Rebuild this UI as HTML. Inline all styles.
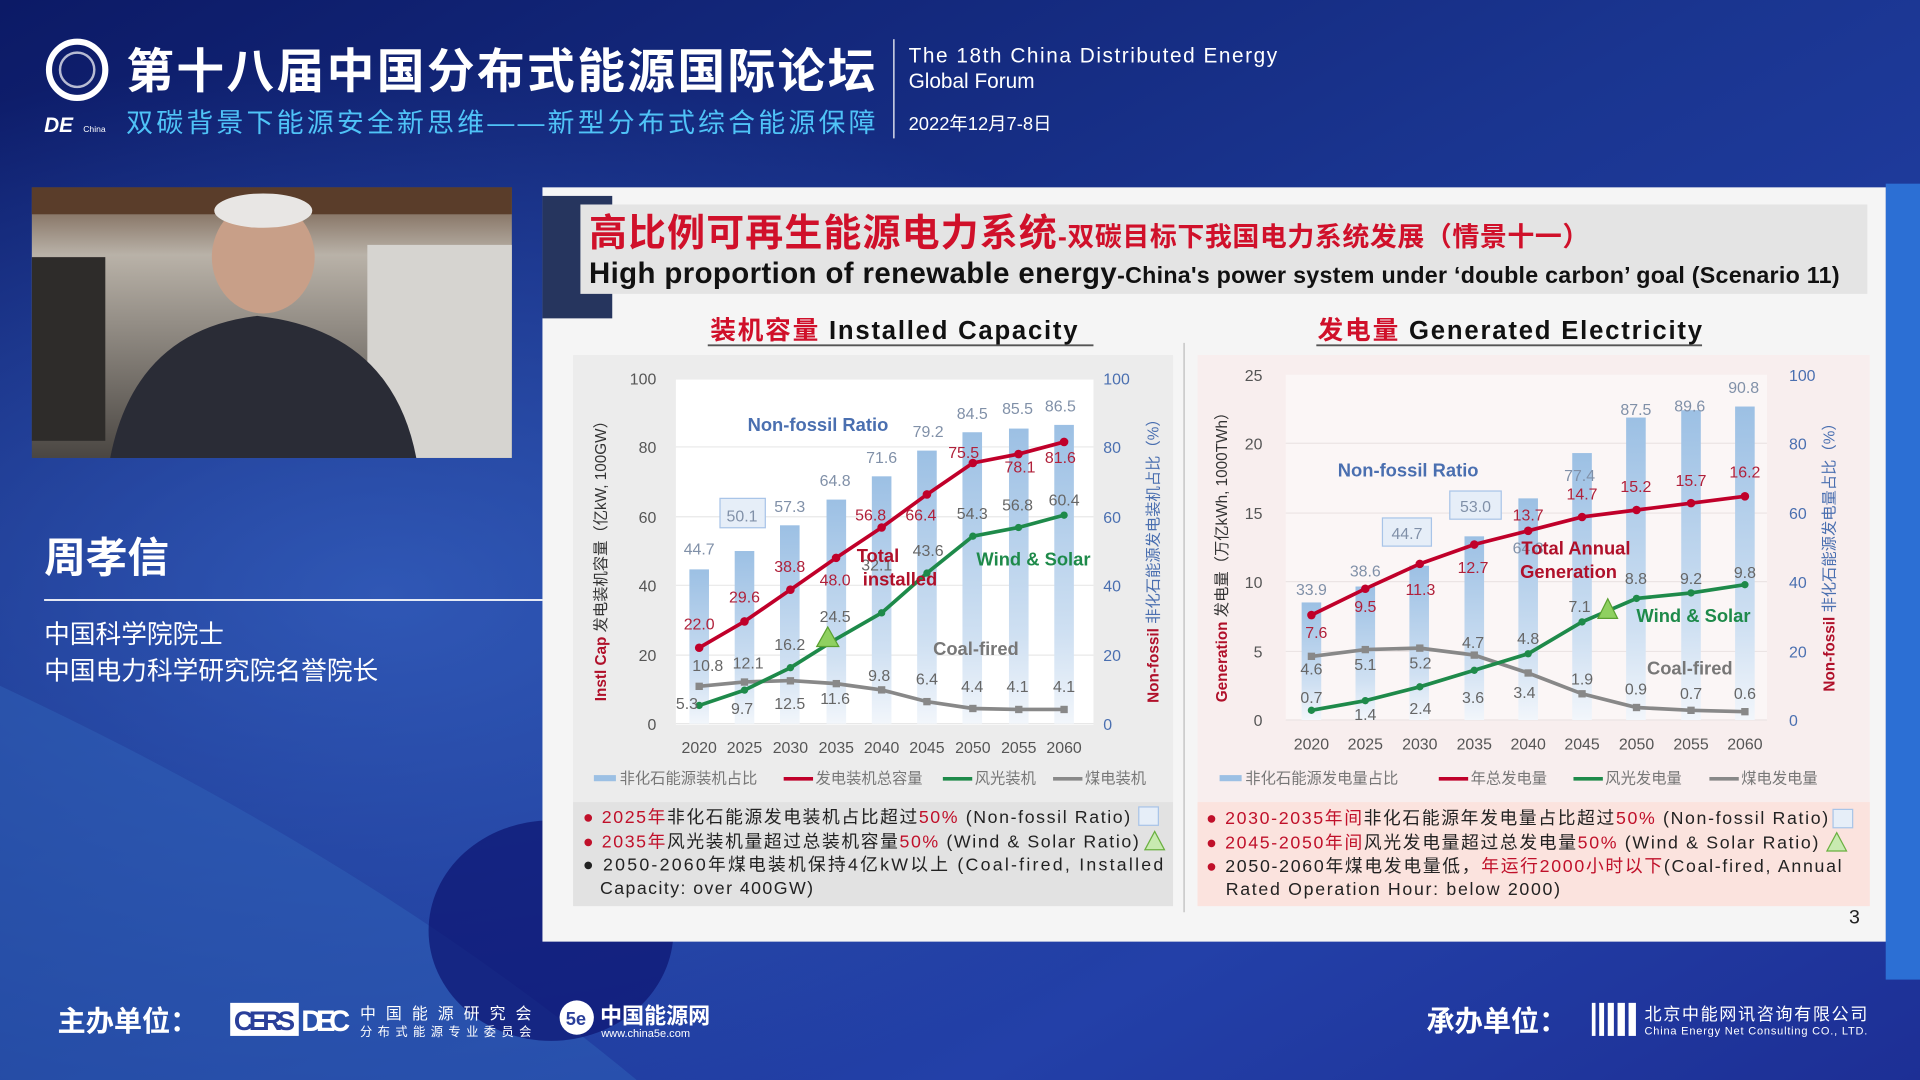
<!DOCTYPE html>
<html><head><meta charset="utf-8"><style>
html,body{margin:0;padding:0;width:1920px;height:1080px;overflow:hidden;background:#14256e;}
svg{display:block}
text{font-family:"Liberation Sans","Noto Sans CJK SC",sans-serif;}
</style></head><body>
<svg width="1920" height="1080" viewBox="0 0 1568 882" xmlns="http://www.w3.org/2000/svg">
<defs>
<linearGradient id="bg" x1="0" y1="0" x2="1" y2="1">
<stop offset="0" stop-color="#0c1a66"/><stop offset="0.45" stop-color="#1a3590"/><stop offset="0.75" stop-color="#2340a8"/><stop offset="1" stop-color="#1d2f95"/>
</linearGradient>
<radialGradient id="glow" cx="0.2" cy="0.55" r="0.5"><stop offset="0" stop-color="#3a68c8" stop-opacity="0.7"/><stop offset="1" stop-color="#3a68c8" stop-opacity="0"/></radialGradient>
<linearGradient id="barL" x1="0" y1="0" x2="0" y2="1"><stop offset="0" stop-color="#9cc0e4"/><stop offset="0.7" stop-color="#cfe0f2"/><stop offset="1" stop-color="#f2f6fb"/></linearGradient>
<linearGradient id="vid" x1="0" y1="0" x2="0" y2="1"><stop offset="0" stop-color="#6b5240"/><stop offset="0.25" stop-color="#b9b2a8"/><stop offset="1" stop-color="#4a4642"/></linearGradient>
</defs>
<rect width="1568" height="882" fill="url(#bg)"/>
<rect width="1568" height="882" fill="url(#glow)"/>
<path d="M0 560 Q300 700 520 882 L0 882Z" fill="#2f62b8" opacity="0.5"/>
<ellipse cx="450" cy="760" rx="100" ry="90" fill="#0d1470" opacity="0.7"/>
<rect x="1540" y="150" width="28" height="650" fill="#2c6fd4"/>
<!-- header -->
<circle cx="63" cy="57" r="23" fill="none" stroke="#fff" stroke-width="5"/>
<circle cx="63" cy="57" r="14" fill="none" stroke="#fff" stroke-width="2" opacity="0.7"/>
<text x="36" y="108" font-size="17" font-weight="bold" fill="#fff" font-style="italic">DE</text>
<text x="68" y="108" font-size="7" fill="#fff">China</text>
<text x="103" y="72" font-size="39" font-weight="bold" fill="#fff" textLength="612">第十八届中国分布式能源国际论坛</text>
<text x="103" y="108" font-size="22" fill="#4fc3f7" textLength="612">双碳背景下能源安全新思维——新型分布式综合能源保障</text>
<line x1="730" y1="32" x2="730" y2="113" stroke="#fff" stroke-width="1"/>
<text x="742" y="51" font-size="17" fill="#fff" textLength="301">The 18th China Distributed Energy</text>
<text x="742" y="72" font-size="17" fill="#fff">Global Forum</text>
<text x="742" y="106" font-size="15" fill="#fff">2022年12月7-8日</text>
<!-- video -->
<rect x="26" y="153" width="392" height="221" fill="url(#vid)"/>
<rect x="26" y="153" width="392" height="22" fill="#5a3d2a"/>
<rect x="300" y="200" width="118" height="174" fill="#d6d4d0"/>
<rect x="26" y="210" width="60" height="150" fill="#2e2c2a"/>
<ellipse cx="215" cy="210" rx="42" ry="46" fill="#c89f88"/>
<ellipse cx="215" cy="172" rx="40" ry="14" fill="#e8e6e4"/>
<path d="M90 374 Q110 270 210 258 Q320 270 340 374Z" fill="#2a2c36"/>
<!-- name -->
<text x="36" y="467" font-size="34" font-weight="bold" fill="#fff">周孝信</text>
<line x1="36" y1="490" x2="443" y2="490" stroke="#fff" stroke-width="1.5"/>
<text x="36" y="525" font-size="21" fill="#fff">中国科学院院士</text>
<text x="36" y="555" font-size="21" fill="#fff">中国电力科学研究院名誉院长</text>
<!-- slide -->
<rect x="443" y="153" width="1097" height="616" fill="#f5f5f5"/>
<rect x="443" y="160" width="57" height="100" fill="#26355e"/>
<rect x="474" y="167" width="1051" height="73" fill="#e4e4e4"/>
<text x="481" y="201" font-size="31" font-weight="bold" fill="#d0102a"><tspan textLength="382">高比例可再生能源电力系统</tspan><tspan font-size="22" textLength="434">-双碳目标下我国电力系统发展（情景十一）</tspan></text>
<text x="481" y="231" font-size="24" font-weight="bold" fill="#111"><tspan textLength="431">High proportion of renewable energy</tspan><tspan font-size="19" textLength="590">-China's power system under ‘double carbon’ goal (Scenario 11)</tspan></text>
<line x1="967" y1="280" x2="967" y2="745" stroke="#bbb"/>
<!-- LEFT CHART -->
<text x="580" y="277" font-size="21" font-weight="bold" fill="#d0102a" textLength="300">装机容量 <tspan fill="#111">Installed Capacity</tspan></text>
<line x1="578" y1="282" x2="893" y2="282" stroke="#555" stroke-width="1.5"/>
<rect x="468" y="290" width="490" height="365" fill="#ececec"/>
<rect x="552" y="310" width="341" height="282" fill="#fff"/>
<g stroke="#e8e8e8"><line x1="552" y1="365" x2="893" y2="365"/><line x1="552" y1="422" x2="893" y2="422"/><line x1="552" y1="478" x2="893" y2="478"/><line x1="552" y1="535" x2="893" y2="535"/><line x1="552" y1="591" x2="893" y2="591"/></g>
<g font-size="13" fill="#555" text-anchor="end"><text x="536" y="314">100</text><text x="536" y="370">80</text><text x="536" y="427">60</text><text x="536" y="483">40</text><text x="536" y="540">20</text><text x="536" y="596">0</text></g>
<g font-size="13" fill="#4a6fb0"><text x="901" y="314">100</text><text x="901" y="370">80</text><text x="901" y="427">60</text><text x="901" y="483">40</text><text x="901" y="540">20</text><text x="901" y="596">0</text></g>
<g fill="url(#barL)">
<rect x="563" y="465" width="16" height="126"/><rect x="600" y="450" width="16" height="141"/><rect x="637" y="429" width="16" height="162"/><rect x="675" y="408" width="16" height="183"/><rect x="712" y="389" width="16" height="202"/><rect x="749" y="368" width="16" height="223"/><rect x="786" y="353" width="16" height="238"/><rect x="824" y="350" width="16" height="241"/><rect x="861" y="347" width="16" height="244"/>
</g>
<polyline points="571,560.5 608,556.9 645.5,555.8 682.8,558.3 720,563.4 757,573 794.5,578.6 831.8,579.4 869,579.4" fill="none" stroke="#888" stroke-width="3"/>
<g fill="#888"><rect x="568" y="557.5" width="6" height="6"/><rect x="605" y="554" width="6" height="6"/><rect x="642.5" y="553" width="6" height="6"/><rect x="680" y="555.3" width="6" height="6"/><rect x="717" y="560.4" width="6" height="6"/><rect x="754" y="570" width="6" height="6"/><rect x="791.5" y="575.6" width="6" height="6"/><rect x="829" y="576.4" width="6" height="6"/><rect x="866" y="576.4" width="6" height="6"/></g>
<polyline points="571,576.1 608,563.6 645.5,545.3 682.8,521.9 720,500.5 757,468 794.5,437.9 831.8,430.8 869,420.7" fill="none" stroke="#1e8a4a" stroke-width="3"/>
<g fill="#1e8a4a"><circle cx="571" cy="576.1" r="3"/><circle cx="608" cy="563.6" r="3"/><circle cx="645.5" cy="545.3" r="3"/><circle cx="720" cy="500.5" r="3"/><circle cx="757" cy="468" r="3"/><circle cx="794.5" cy="437.9" r="3"/><circle cx="831.8" cy="430.8" r="3"/><circle cx="869" cy="420.7" r="3"/></g>
<polyline points="571,529 608,507.5 645.5,481.6 682.8,455.6 720,430.8 757,403.8 794.5,378.1 831.8,370.8 869,360.9" fill="none" stroke="#c0002a" stroke-width="3"/>
<g fill="#c0002a"><circle cx="571" cy="529" r="3.5"/><circle cx="608" cy="507.5" r="3.5"/><circle cx="645.5" cy="481.6" r="3.5"/><circle cx="682.8" cy="455.6" r="3.5"/><circle cx="720" cy="430.8" r="3.5"/><circle cx="757" cy="403.8" r="3.5"/><circle cx="794.5" cy="378.1" r="3.5"/><circle cx="831.8" cy="370.8" r="3.5"/><circle cx="869" cy="360.9" r="3.5"/></g>
<polygon points="676,512 667,528 685,528" fill="#8fd060" stroke="#5aa030"/>
<rect x="588" y="407" width="37" height="24" fill="#e6eef8" stroke="#a8c4e8"/>
<g font-size="13" fill="#8090a8" text-anchor="middle">
<text x="571" y="453">44.7</text><text x="606" y="426">50.1</text><text x="645" y="418">57.3</text><text x="682" y="397">64.8</text><text x="720" y="378">71.6</text><text x="758" y="357">79.2</text><text x="794" y="342">84.5</text><text x="831" y="338">85.5</text><text x="866" y="336">86.5</text></g>
<g font-size="13" fill="#b0203a" text-anchor="middle">
<text x="571" y="514">22.0</text><text x="608" y="492">29.6</text><text x="645" y="467">38.8</text><text x="682" y="478">48.0</text><text x="711" y="425">56.8</text><text x="752" y="425">66.4</text><text x="787" y="374">75.5</text><text x="833" y="386">78.1</text><text x="866" y="378">81.6</text></g>
<g font-size="13" fill="#666" text-anchor="middle">
<text x="561" y="579">5.3</text><text x="606" y="583">9.7</text><text x="645" y="531">16.2</text><text x="682" y="508">24.5</text><text x="716" y="466">32.1</text><text x="758" y="454">43.6</text><text x="794" y="424">54.3</text><text x="831" y="417">56.8</text><text x="869" y="413">60.4</text>
<text x="578" y="548">10.8</text><text x="611" y="546">12.1</text><text x="645" y="579">12.5</text><text x="682" y="575">11.6</text><text x="718" y="556">9.8</text><text x="757" y="559">6.4</text><text x="794" y="565">4.4</text><text x="831" y="565">4.1</text><text x="869" y="565">4.1</text></g>
<g font-size="15" font-weight="bold" text-anchor="middle">
<text x="668" y="352" fill="#4a6fb0">Non-fossil Ratio</text>
<text x="717" y="459" fill="#b0102a">Total</text><text x="735" y="478" fill="#b0102a">installed</text>
<text x="844" y="462" fill="#1e8a4a">Wind &amp; Solar</text>
<text x="797" y="535" fill="#777">Coal-fired</text></g>
<g font-size="13" fill="#555" text-anchor="middle"><text x="571" y="615">2020</text><text x="608" y="615">2025</text><text x="645.5" y="615">2030</text><text x="683" y="615">2035</text><text x="720" y="615">2040</text><text x="757" y="615">2045</text><text x="794.5" y="615">2050</text><text x="832" y="615">2055</text><text x="869" y="615">2060</text></g>
<text transform="translate(495,455) rotate(-90)" font-size="12.5" font-weight="bold" fill="#b0102a" text-anchor="middle">Instl Cap <tspan fill="#333" font-weight="normal">发电装机容量（亿kW, 100GW）</tspan></text>
<text transform="translate(946,455) rotate(-90)" font-size="12.5" font-weight="bold" fill="#b0102a" text-anchor="middle">Non-fossil <tspan fill="#4a6fb0" font-weight="normal">非化石能源发电装机占比（%）</tspan></text>
<g font-size="12.5" fill="#777"><rect x="485" y="633" width="18" height="5" fill="#9cc0e4"/><text x="506" y="640">非化石能源装机占比</text>
<line x1="640" y1="636" x2="664" y2="636" stroke="#c0002a" stroke-width="3"/><text x="666" y="640">发电装机总容量</text>
<line x1="770" y1="636" x2="794" y2="636" stroke="#1e8a4a" stroke-width="3"/><text x="796" y="640">风光装机</text>
<line x1="860" y1="636" x2="884" y2="636" stroke="#888" stroke-width="3"/><text x="886" y="640">煤电装机</text></g>
<rect x="468" y="655" width="490" height="85" fill="#e2e2e2"/>
<g font-size="14.5" fill="#222">
<text x="476" y="672" textLength="447"><tspan fill="#c0102a">● 2025年</tspan>非化石能源发电装机占比超过<tspan fill="#c0102a">50%</tspan> (Non-fossil Ratio)</text>
<text x="476" y="692" textLength="454"><tspan fill="#c0102a">● 2035年</tspan>风光装机量超过总装机容量<tspan fill="#c0102a">50%</tspan> (Wind &amp; Solar Ratio)</text>
<text x="476" y="711" textLength="474">● 2050-2060年煤电装机保持4亿kW以上 (Coal-fired, Installed</text>
<text x="490" y="730" textLength="174">Capacity: over 400GW)</text></g>
<rect x="930" y="659" width="16" height="15" fill="#e6eef8" stroke="#a8c4e8"/>
<polygon points="943,679 935,694 951,694" fill="#c8eab0" stroke="#6ab040"/>
<!-- RIGHT CHART -->
<text x="1076" y="277" font-size="21" font-weight="bold" fill="#d0102a" textLength="314">发电量 <tspan fill="#111">Generated Electricity</tspan></text>
<line x1="1075" y1="282" x2="1390" y2="282" stroke="#555" stroke-width="1.5"/>
<rect x="978" y="290" width="549" height="365" fill="#f8eeee"/>
<rect x="1050" y="306" width="393" height="282" fill="#fbf6f6"/>
<g stroke="#ebe4e4"><line x1="1050" y1="362" x2="1443" y2="362"/><line x1="1050" y1="419" x2="1443" y2="419"/><line x1="1050" y1="475" x2="1443" y2="475"/><line x1="1050" y1="532" x2="1443" y2="532"/><line x1="1050" y1="588" x2="1443" y2="588"/></g>
<g font-size="13" fill="#555" text-anchor="end"><text x="1031" y="311">25</text><text x="1031" y="367">20</text><text x="1031" y="424">15</text><text x="1031" y="480">10</text><text x="1031" y="537">5</text><text x="1031" y="593">0</text></g>
<g font-size="13" fill="#4a6fb0"><text x="1461" y="311">100</text><text x="1461" y="367">80</text><text x="1461" y="424">60</text><text x="1461" y="480">40</text><text x="1461" y="537">20</text><text x="1461" y="593">0</text></g>
<g fill="url(#barL)">
<rect x="1063" y="492" width="16" height="96"/><rect x="1107" y="479" width="16" height="109"/><rect x="1151" y="462" width="16" height="126"/><rect x="1196" y="438" width="16" height="150"/><rect x="1240" y="407" width="16" height="181"/><rect x="1284" y="370" width="16" height="218"/><rect x="1328" y="341" width="16" height="247"/><rect x="1373" y="335" width="16" height="253"/><rect x="1417" y="332" width="16" height="256"/>
</g>
<polyline points="1071,536.1 1115,530.5 1159.5,529.3 1204,535 1248,549.6 1292,566.6 1336.5,577.8 1381,580.1 1425,581.2" fill="none" stroke="#888" stroke-width="3"/>
<g fill="#888"><rect x="1068" y="533" width="6" height="6"/><rect x="1112" y="527.5" width="6" height="6"/><rect x="1156.5" y="526.3" width="6" height="6"/><rect x="1201" y="532" width="6" height="6"/><rect x="1245" y="546.6" width="6" height="6"/><rect x="1289" y="563.6" width="6" height="6"/><rect x="1333.5" y="574.8" width="6" height="6"/><rect x="1378" y="577.1" width="6" height="6"/><rect x="1422" y="578.2" width="6" height="6"/></g>
<polyline points="1071,580.1 1115,572.2 1159.5,560.9 1204,547.4 1248,533.9 1292,507.9 1336.5,488.7 1381,484.2 1425,477.5" fill="none" stroke="#1e8a4a" stroke-width="3"/>
<g fill="#1e8a4a"><circle cx="1071" cy="580.1" r="3"/><circle cx="1115" cy="572.2" r="3"/><circle cx="1159.5" cy="560.9" r="3"/><circle cx="1204" cy="547.4" r="3"/><circle cx="1248" cy="533.9" r="3"/><circle cx="1292" cy="507.9" r="3"/><circle cx="1336.5" cy="488.7" r="3"/><circle cx="1381" cy="484.2" r="3"/><circle cx="1425" cy="477.5" r="3"/></g>
<polyline points="1071,502.3 1115,480.8 1159.5,460.5 1204,444.7 1248,433.5 1292,422.2 1336.5,416.5 1381,410.9 1425,405.3" fill="none" stroke="#c0002a" stroke-width="3"/>
<g fill="#c0002a"><circle cx="1071" cy="502.3" r="3.5"/><circle cx="1115" cy="480.8" r="3.5"/><circle cx="1159.5" cy="460.5" r="3.5"/><circle cx="1204" cy="444.7" r="3.5"/><circle cx="1248" cy="433.5" r="3.5"/><circle cx="1292" cy="422.2" r="3.5"/><circle cx="1336.5" cy="416.5" r="3.5"/><circle cx="1381" cy="410.9" r="3.5"/><circle cx="1425" cy="405.3" r="3.5"/></g>
<polygon points="1313,489 1305,505 1321,505" fill="#8fd060" stroke="#5aa030"/>
<rect x="1129" y="423" width="40" height="23" fill="#e6eef8" stroke="#a8c4e8"/>
<rect x="1184" y="401" width="42" height="23" fill="#e6eef8" stroke="#a8c4e8"/>
<g font-size="13" fill="#8090a8" text-anchor="middle">
<text x="1071" y="486">33.9</text><text x="1115" y="471">38.6</text><text x="1149" y="440">44.7</text><text x="1205" y="418">53.0</text><text x="1248" y="452">64.3</text><text x="1290" y="393">77.4</text><text x="1336" y="339">87.5</text><text x="1380" y="336">89.6</text><text x="1424" y="321">90.8</text></g>
<g font-size="13" fill="#b0203a" text-anchor="middle">
<text x="1075" y="521">7.6</text><text x="1115" y="500">9.5</text><text x="1160" y="486">11.3</text><text x="1203" y="468">12.7</text><text x="1248" y="425">13.7</text><text x="1292" y="408">14.7</text><text x="1336" y="402">15.2</text><text x="1381" y="397">15.7</text><text x="1425" y="390">16.2</text></g>
<g font-size="13" fill="#666" text-anchor="middle">
<text x="1071" y="574">0.7</text><text x="1115" y="588">1.4</text><text x="1160" y="583">2.4</text><text x="1203" y="574">3.6</text><text x="1248" y="526">4.8</text><text x="1290" y="500">7.1</text><text x="1336" y="477">8.8</text><text x="1381" y="477">9.2</text><text x="1425" y="472">9.8</text>
<text x="1071" y="551">4.6</text><text x="1115" y="547">5.1</text><text x="1160" y="546">5.2</text><text x="1203" y="529">4.7</text><text x="1245" y="570">3.4</text><text x="1292" y="559">1.9</text><text x="1336" y="567">0.9</text><text x="1381" y="571">0.7</text><text x="1425" y="571">0.6</text></g>
<g font-size="15" font-weight="bold" text-anchor="middle">
<text x="1150" y="389" fill="#4a6fb0">Non-fossil Ratio</text>
<text x="1287" y="453" fill="#b0102a">Total Annual</text><text x="1281" y="472" fill="#b0102a">Generation</text>
<text x="1383" y="508" fill="#1e8a4a">Wind &amp; Solar</text>
<text x="1380" y="551" fill="#777">Coal-fired</text></g>
<g font-size="13" fill="#555" text-anchor="middle"><text x="1071" y="612">2020</text><text x="1115" y="612">2025</text><text x="1159.5" y="612">2030</text><text x="1204" y="612">2035</text><text x="1248" y="612">2040</text><text x="1292" y="612">2045</text><text x="1336.5" y="612">2050</text><text x="1381" y="612">2055</text><text x="1425" y="612">2060</text></g>
<text transform="translate(1002,452) rotate(-90)" font-size="12.5" font-weight="bold" fill="#b0102a" text-anchor="middle">Generation <tspan fill="#333" font-weight="normal">发电量（万亿kWh, 1000TWh）</tspan></text>
<text transform="translate(1498,452) rotate(-90)" font-size="12.5" font-weight="bold" fill="#b0102a" text-anchor="middle">Non-fossil <tspan fill="#4a6fb0" font-weight="normal">非化石能源发电量占比（%）</tspan></text>
<g font-size="12.5" fill="#777"><rect x="996" y="633" width="18" height="5" fill="#9cc0e4"/><text x="1017" y="640">非化石能源发电量占比</text>
<line x1="1175" y1="636" x2="1199" y2="636" stroke="#c0002a" stroke-width="3"/><text x="1201" y="640">年总发电量</text>
<line x1="1285" y1="636" x2="1309" y2="636" stroke="#1e8a4a" stroke-width="3"/><text x="1311" y="640">风光发电量</text>
<line x1="1396" y1="636" x2="1420" y2="636" stroke="#888" stroke-width="3"/><text x="1422" y="640">煤电发电量</text></g>
<rect x="978" y="655" width="549" height="85" fill="#fbe3de"/>
<g font-size="14.5" fill="#222">
<text x="985" y="673" textLength="508"><tspan fill="#c0102a">● 2030-2035年间</tspan>非化石能源年发电量占比超过<tspan fill="#c0102a">50%</tspan> (Non-fossil Ratio)</text>
<text x="985" y="693" textLength="500"><tspan fill="#c0102a">● 2045-2050年间</tspan>风光发电量超过总发电量<tspan fill="#c0102a">50%</tspan> (Wind &amp; Solar Ratio)</text>
<text x="985" y="712" textLength="519"><tspan fill="#c0102a">● </tspan>2050-2060年煤电发电量低，<tspan fill="#c0102a">年运行2000小时以下</tspan>(Coal-fired, Annual</text>
<text x="1001" y="731" textLength="273">Rated Operation Hour: below 2000)</text></g>
<rect x="1497" y="661" width="16" height="15" fill="#e6eef8" stroke="#a8c4e8"/>
<polygon points="1500,680 1492,695 1508,695" fill="#c8eab0" stroke="#6ab040"/>
<text x="1510" y="754" font-size="16" fill="#222">3</text>
<!-- footer -->
<text x="47" y="842" font-size="23" font-weight="bold" fill="#fff">主办单位：</text>
<rect x="188" y="819" width="56" height="27" fill="#fff"/>
<text x="191" y="841" font-size="22" font-weight="bold" fill="#2a3f9a" textLength="50">CERS</text>
<text x="246" y="842" font-size="24" font-weight="bold" fill="#fff" textLength="40">DEC</text>
<text x="294" y="832" font-size="13" fill="#fff" textLength="140">中国能源研究会</text>
<text x="294" y="846" font-size="10" fill="#fff" textLength="140">分布式能源专业委员会</text>
<circle cx="471" cy="831" r="14" fill="#fff"/><text x="462" y="837" font-size="15" font-weight="bold" fill="#2a3f9a">5e</text>
<text x="490" y="836" font-size="18" font-weight="bold" fill="#fff">中国能源网</text>
<text x="491" y="847" font-size="9" fill="#fff">www.china5e.com</text>
<text x="1165" y="842" font-size="23" font-weight="bold" fill="#fff">承办单位：</text>
<g fill="#fff"><rect x="1300" y="819" width="3" height="27"/><rect x="1306" y="819" width="4" height="27"/><rect x="1313" y="819" width="5" height="27"/><rect x="1321" y="819" width="6" height="27"/><rect x="1330" y="819" width="6" height="27"/></g>
<text x="1343" y="833" font-size="14" fill="#fff" textLength="182">北京中能网讯咨询有限公司</text>
<text x="1343" y="845" font-size="9" fill="#fff" textLength="182">China Energy Net Consulting CO., LTD.</text>
</svg>
</body></html>
